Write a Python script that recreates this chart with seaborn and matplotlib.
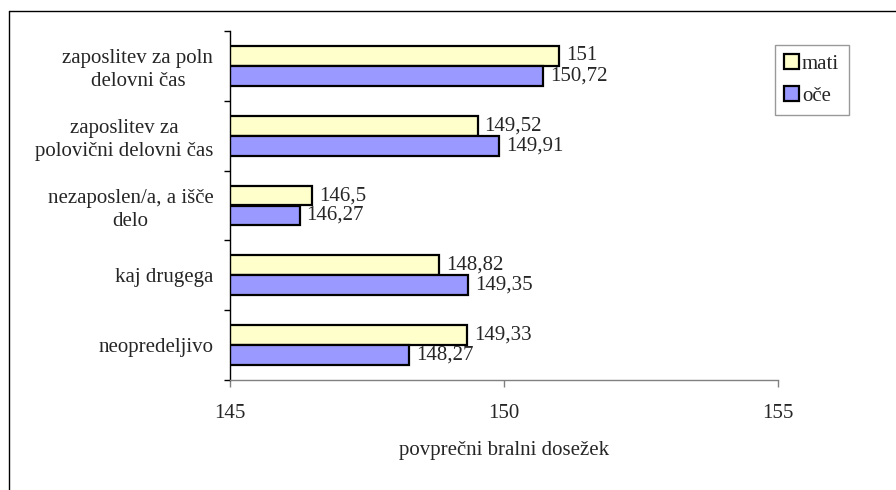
import pandas as pd
import matplotlib.pyplot as plt
import seaborn as sns
from matplotlib.lines import Line2D

categories = ['zaposlitev za poln\ndelovni čas',
              'zaposlitev za\npolovični delovni čas',
              'nezaposlen/a, a išče\ndelo',
              'kaj drugega',
              'neopredeljivo']
mati = [151, 149.52, 146.5, 148.82, 149.33]
oce = [150.72, 149.91, 146.27, 149.35, 148.27]
series = ['mati', 'oče']
colors = ['#FFFFCC', '#9999FF']

df = pd.DataFrame({'kategorija': categories * 2,
                   'vrednost': mati + oce,
                   'stars': ['mati'] * len(categories) + ['oče'] * len(categories)})

sns.set_style('white')
plt.rcParams['font.family'] = ['Liberation Serif', 'DejaVu Serif']
fs = 15

fig = plt.figure(figsize=(8.96, 4.90), dpi=100)
ax = fig.add_axes([230/896, 1-380/490, 548/896, 349/490])

sns.barplot(data=df, y='kategorija', x='vrednost', hue='stars',
            hue_order=series, palette=colors, orient='h',
            width=0.57, edgecolor='black', linewidth=1.6,
            saturation=1, ax=ax)

ax.set_xlim(145, 155)
ax.set_ylim(len(categories) - 0.5, -0.5)
ax.set_xticks([145, 150, 155])
ax.set_xticklabels(['145', '150', '155'], fontsize=fs)
ax.set_xlabel('povprečni bralni dosežek', fontsize=fs, labelpad=13)
ax.set_ylabel('')
ax.set_yticks(range(len(categories)))
ax.set_yticklabels(categories, fontsize=fs, multialignment='center', linespacing=1.25)
ax.set_yticks([i - 0.5 for i in range(len(categories) + 1)], minor=True)
ax.tick_params(axis='y', which='major', length=0, pad=12)
ax.tick_params(axis='y', which='minor', length=4, width=1, color='black', direction='out', left=True)
ax.tick_params(axis='x', length=5, width=1, color='#808080', direction='out', bottom=True, pad=12)

for side in ['top', 'right']:
    ax.spines[side].set_visible(False)
ax.spines['left'].set_color('black')
ax.spines['left'].set_linewidth(1)
ax.spines['bottom'].set_color('#808080')
ax.spines['bottom'].set_linewidth(1)

for cont in ax.containers:
    labels = [f'{v:g}'.replace('.', ',') for v in cont.datavalues]
    ax.bar_label(cont, labels=labels, padding=5, fontsize=fs)

handles, labels = ax.get_legend_handles_labels()
ax.legend(handles, labels, loc='upper left', bbox_to_anchor=(775/896, 1-45/490),
          bbox_transform=fig.transFigure, fontsize=fs, frameon=True, fancybox=False,
          edgecolor='#808080', handlelength=0.7, handleheight=0.7,
          handletextpad=0.15, labelspacing=0.6, borderpad=0.45, borderaxespad=0)

# outer chart border (left and top visible)
fig.add_artist(Line2D([9/896, 9/896], [0, 1-11/490], transform=fig.transFigure, color='black', lw=1))
fig.add_artist(Line2D([9/896, 1], [1-11/490, 1-11/490], transform=fig.transFigure, color='black', lw=1))

fig.savefig('out.png', dpi=100)
